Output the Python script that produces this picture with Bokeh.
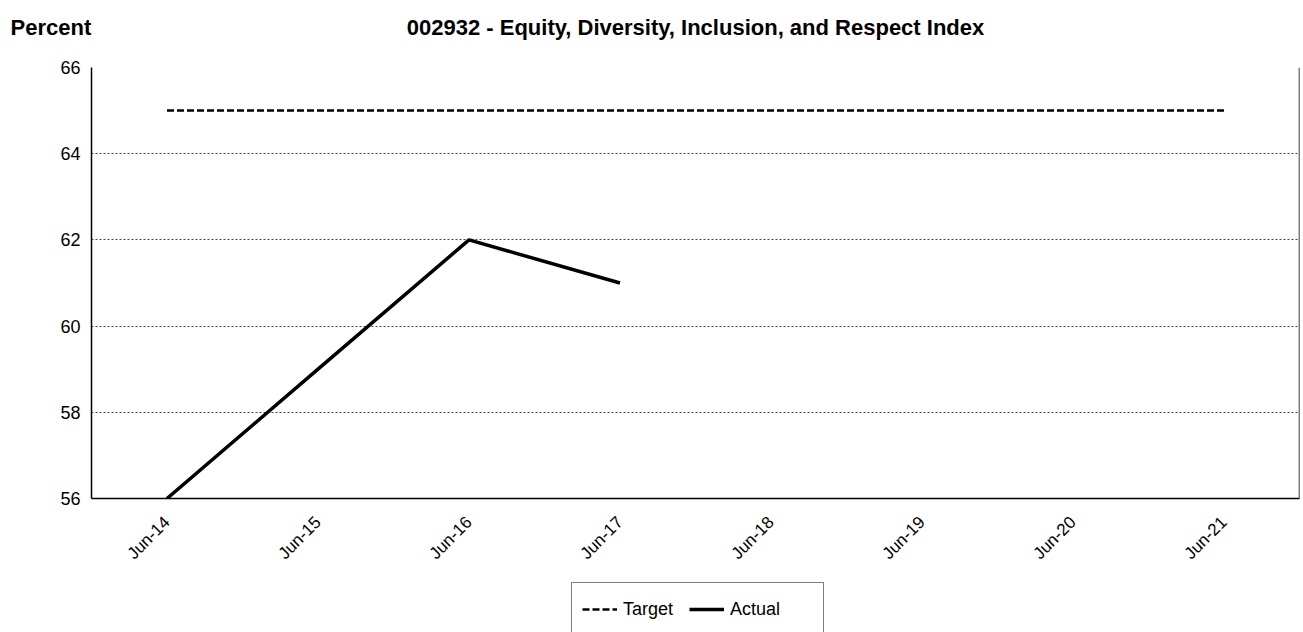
import math
from bokeh.plotting import figure
from bokeh.layouts import column
from bokeh.models import Label, Legend, LegendItem, Span, FixedTicker, Range1d
from bokeh.embed import file_html
from bokeh.resources import INLINE

# ---- data ----
categories = ["Jun-14", "Jun-15", "Jun-16", "Jun-17", "Jun-18", "Jun-19", "Jun-20", "Jun-21"]
target = [65, 65, 65, 65, 65, 65, 65, 65]
actual_periods = ["Jun-14", "Jun-15", "Jun-16", "Jun-17"]
actual = [56, 59, 62, 61]
y_ticks = [56, 58, 60, 62, 64, 66]
y_min, y_max = 56, 66
title_text = "002932 - Equity, Diversity, Inclusion, and Respect Index"
unit_text = "Percent"

FONT = "Liberation Sans"
W = 1303
TOP_H, MAIN_H, BOT_H = 45, 530, 57
NAN = float("nan")

# ---- title strip ----
top = figure(width=W, height=TOP_H, x_range=Range1d(0, W), y_range=Range1d(0, TOP_H),
             toolbar_location=None, output_backend="svg", min_border=0,
             min_border_left=0, min_border_right=0, min_border_top=0, min_border_bottom=0,
             x_axis_location=None, y_axis_location=None, frame_align=False)
top.grid.visible = False
top.outline_line_color = None
top.add_layout(Label(x=10, y=TOP_H - 27, text=unit_text, text_font=FONT,
                     text_font_style="bold", text_font_size="22px", text_color="black",
                     text_align="left", text_baseline="alphabetic"))
top.add_layout(Label(x=695, y=TOP_H - 27, text=title_text, text_font=FONT,
                     text_font_style="bold", text_font_size="22px", text_color="black",
                     text_align="center", text_baseline="alphabetic"))

# ---- main chart ----
p = figure(x_range=categories, y_range=Range1d(y_min, y_max),
           width=W, height=MAIN_H, title=None,
           toolbar_location=None, output_backend="svg",
           min_border_left=91, min_border_right=4,
           min_border_top=22, min_border_bottom=77, frame_align=False)
p.outline_line_color = None

p.xgrid.grid_line_color = None
p.ygrid.grid_line_color = "#444444"
p.ygrid.grid_line_dash = "2 2"
p.ygrid.grid_line_width = 1
p.yaxis.ticker = FixedTicker(ticks=y_ticks)

for ax in (p.xaxis, p.yaxis):
    ax.axis_line_color = "black"
    ax.axis_line_width = 1.5
    ax.major_tick_line_color = None
    ax.minor_tick_line_color = None
    ax.major_tick_out = 0
    ax.major_tick_in = 0
    ax.major_label_text_font = FONT
    ax.major_label_text_color = "black"

p.yaxis.major_label_text_font_size = "18px"
p.yaxis.major_label_standoff = 11
p.xaxis.major_label_text_font_size = "17px"
p.xaxis.major_label_orientation = math.pi / 4
p.xaxis.major_label_standoff = 21

p.add_layout(Span(location=len(categories), dimension="height",
                  line_color="black", line_width=1.5))

r_target = p.line(categories, target, line_color="black", line_width=2.5, line_dash="7 3")
r_actual = p.line(actual_periods, actual, line_color="black", line_width=3.5)

# ---- legend strip ----
bot = figure(width=W, height=BOT_H, x_range=Range1d(0, W), y_range=Range1d(0, BOT_H),
             toolbar_location=None, output_backend="svg", min_border=0,
             min_border_left=0, min_border_right=0, min_border_top=0, min_border_bottom=0,
             x_axis_location=None, y_axis_location=None, frame_align=False)
bot.grid.visible = False
bot.outline_line_color = None
# legend proxies (one NaN row so that their legend glyphs are drawn, nothing plotted)
l_blank = bot.line(x=[NAN], y=[NAN], line_alpha=0)
l_target = bot.line(x=[NAN], y=[NAN], line_color="black", line_width=2.5, line_dash="7 3")
l_actual = bot.line(x=[NAN], y=[NAN], line_color="black", line_width=3.5)

# location = (left, bottom) in pixels from the strip's bottom-left corner
box = Legend(items=[LegendItem(label=" ", renderers=[l_blank])],
             location=(571, -22), orientation="horizontal",
             padding=0, spacing=0, glyph_width=251, glyph_height=70,
             label_standoff=0, label_width=0, label_text_font_size="1px",
             border_line_color="black", border_line_width=1,
             background_fill_color="white", background_fill_alpha=1, margin=0)
bot.add_layout(box)

leg = Legend(items=[LegendItem(label="Target", renderers=[l_target]),
                    LegendItem(label="Actual", renderers=[l_actual])],
             location=(582, 12), orientation="horizontal",
             padding=0, spacing=16, glyph_width=35, glyph_height=22,
             label_standoff=6, label_text_font=FONT, label_text_font_size="18px",
             label_text_color="black",
             border_line_color=None, background_fill_alpha=0, margin=0)
bot.add_layout(leg)

layout = column(top, p, bot, spacing=0)
open("out.html", "w").write(file_html(layout, INLINE))
